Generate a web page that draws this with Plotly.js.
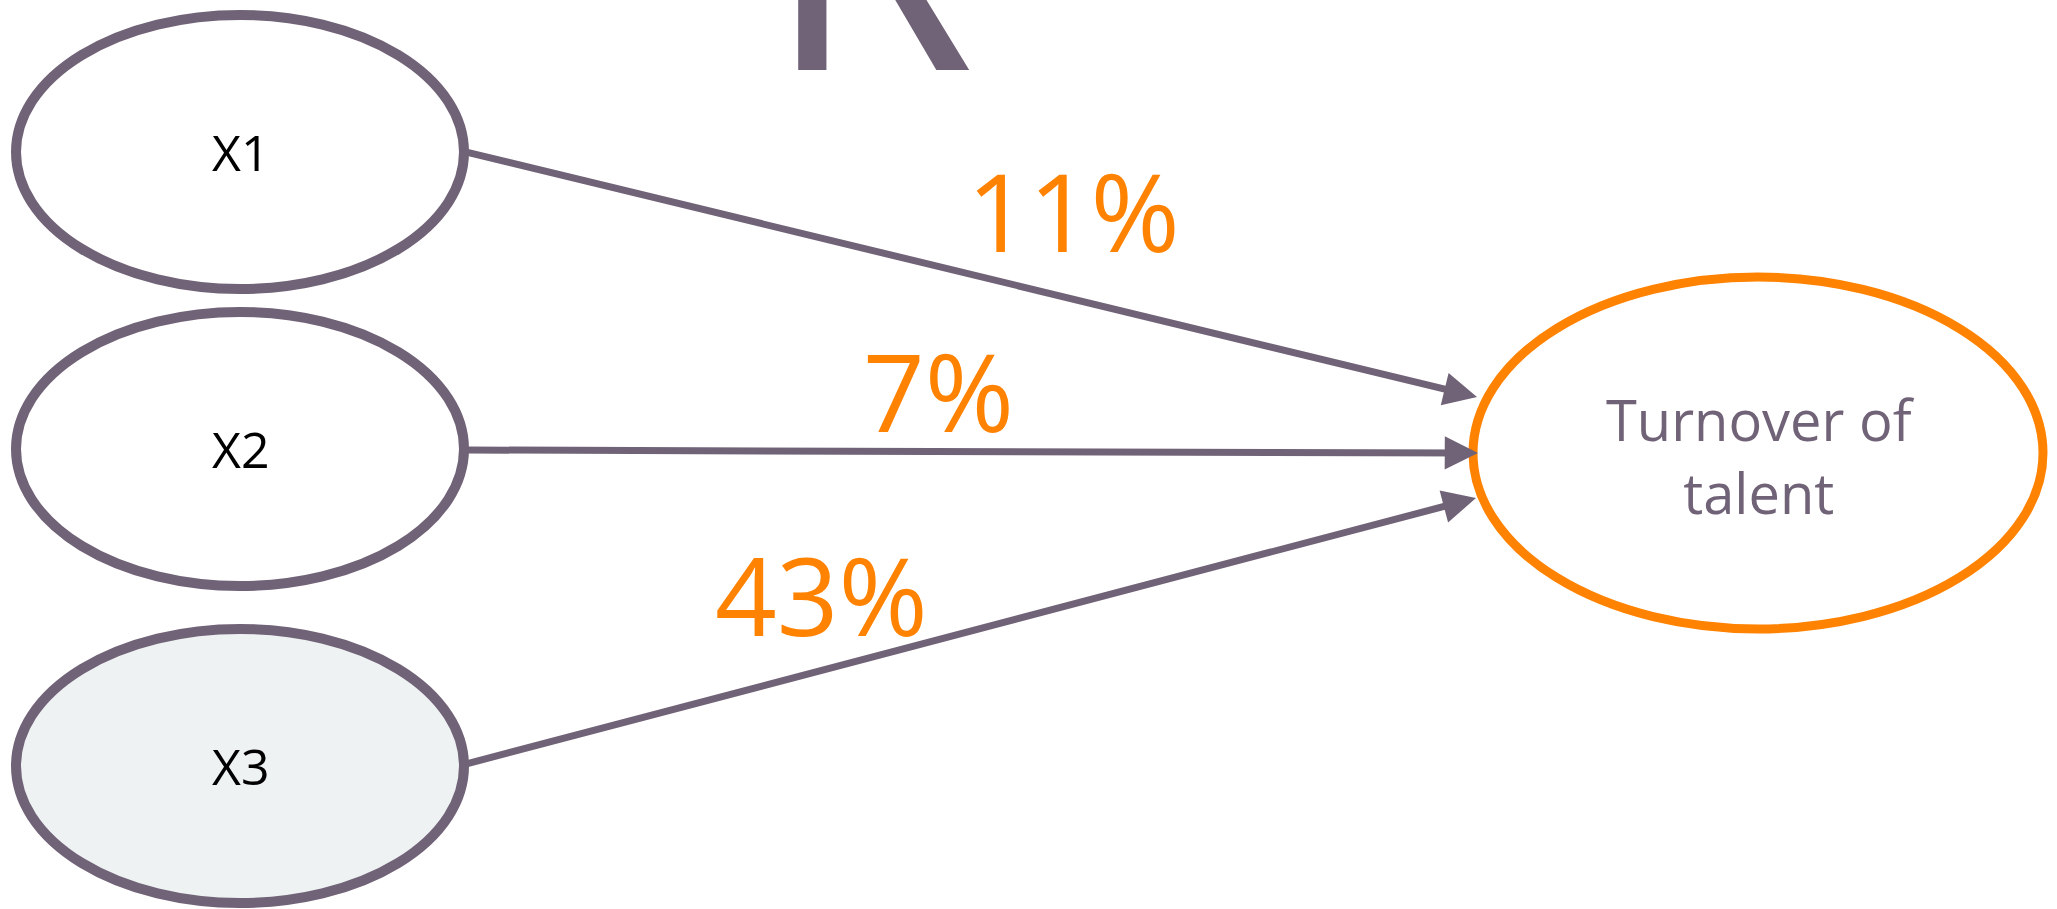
<!DOCTYPE html>
<html>
<head>
<meta charset="utf-8">
<script src="https://cdn.plot.ly/plotly-3.0.1.min.js"></script>
<style>html,body{margin:0;padding:0;background:#fff;}#chart{width:2057px;height:909px;}</style>
</head>
<body>
<div id="chart"></div>
<script>
// ---- data ----
const sourceNodes = ['X1', 'X2', 'X3'];
const targetNode = 'Turnover of<br>talent';
const effectPct = [11, 7, 43];
const highlighted = [false, false, true];
const titleFragment = 'R';

// ---- layout geometry (pixel-like data coordinates) ----
const W = 2057, H = 909;
const purple = '#716377';
const orange = '#FF8200';
const srcCenters = [[240, 152], [240, 449], [240, 766]];
const srcR = [224, 137];
const tgtC = [1758, 453], tgtR = [285, 176];
const arrowTips = [[1477, 397], [1478, 453], [1476, 498]];
const arrowTails = [[466, 152], [466, 450], [466, 764]];
const labelPos = [[1073, 210], [938, 390], [821, 594]];

const shapes = [];
const annotations = [];

sourceNodes.forEach((name, i) => {
  const [cx, cy] = srcCenters[i];
  shapes.push({
    type: 'circle', xref: 'x', yref: 'y',
    x0: cx - srcR[0], x1: cx + srcR[0], y0: cy - srcR[1], y1: cy + srcR[1],
    line: {color: purple, width: 10},
    fillcolor: highlighted[i] ? '#EEF2F3' : '#FFFFFF', layer: 'above'
  });
  annotations.push({
    x: cx, y: cy, xref: 'x', yref: 'y', text: name, showarrow: false,
    font: {family: 'Open Sans', size: 50, color: '#000000'}
  });
  annotations.push({
    x: arrowTips[i][0], y: arrowTips[i][1], ax: arrowTails[i][0], ay: arrowTails[i][1],
    xref: 'x', yref: 'y', axref: 'x', ayref: 'y', text: '', showarrow: true,
    arrowhead: 2, arrowsize: 0.95, arrowwidth: 7, arrowcolor: purple, standoff: 0, startstandoff: 0
  });
  annotations.push({
    x: labelPos[i][0], y: labelPos[i][1], xref: 'x', yref: 'y',
    text: effectPct[i] + '%', showarrow: false,
    font: {family: 'Open Sans', size: 108, color: orange}
  });
});

shapes.push({
  type: 'circle', xref: 'x', yref: 'y',
  x0: tgtC[0] - tgtR[0], x1: tgtC[0] + tgtR[0], y0: tgtC[1] - tgtR[1], y1: tgtC[1] + tgtR[1],
  line: {color: orange, width: 9}, fillcolor: '#FFFFFF', layer: 'below'
});
annotations.push({
  x: tgtC[0] + 2, y: tgtC[1] + 2, xref: 'x', yref: 'y', text: targetNode, showarrow: false,
  font: {family: 'Open Sans', size: 56, color: purple}
});

// big cut-off title glyph at top
annotations.push({
  x: 763, y: 172, xref: 'x', yref: 'y', xanchor: 'left', yanchor: 'bottom',
  text: titleFragment, showarrow: false,
  font: {family: 'Open Sans', size: 340, color: purple}
});

const layout = {
  width: W, height: H,
  margin: {l: 0, r: 0, t: 0, b: 0},
  paper_bgcolor: '#FFFFFF', plot_bgcolor: '#FFFFFF',
  xaxis: {range: [0, W], visible: false, fixedrange: true},
  yaxis: {range: [H, 0], visible: false, fixedrange: true},
  showlegend: false,
  shapes: shapes,
  annotations: annotations
};

Plotly.newPlot('chart', [{x: [], y: [], type: 'scatter', hoverinfo: 'skip'}], layout, {displayModeBar: false, staticPlot: true});
</script>
</body>
</html>
